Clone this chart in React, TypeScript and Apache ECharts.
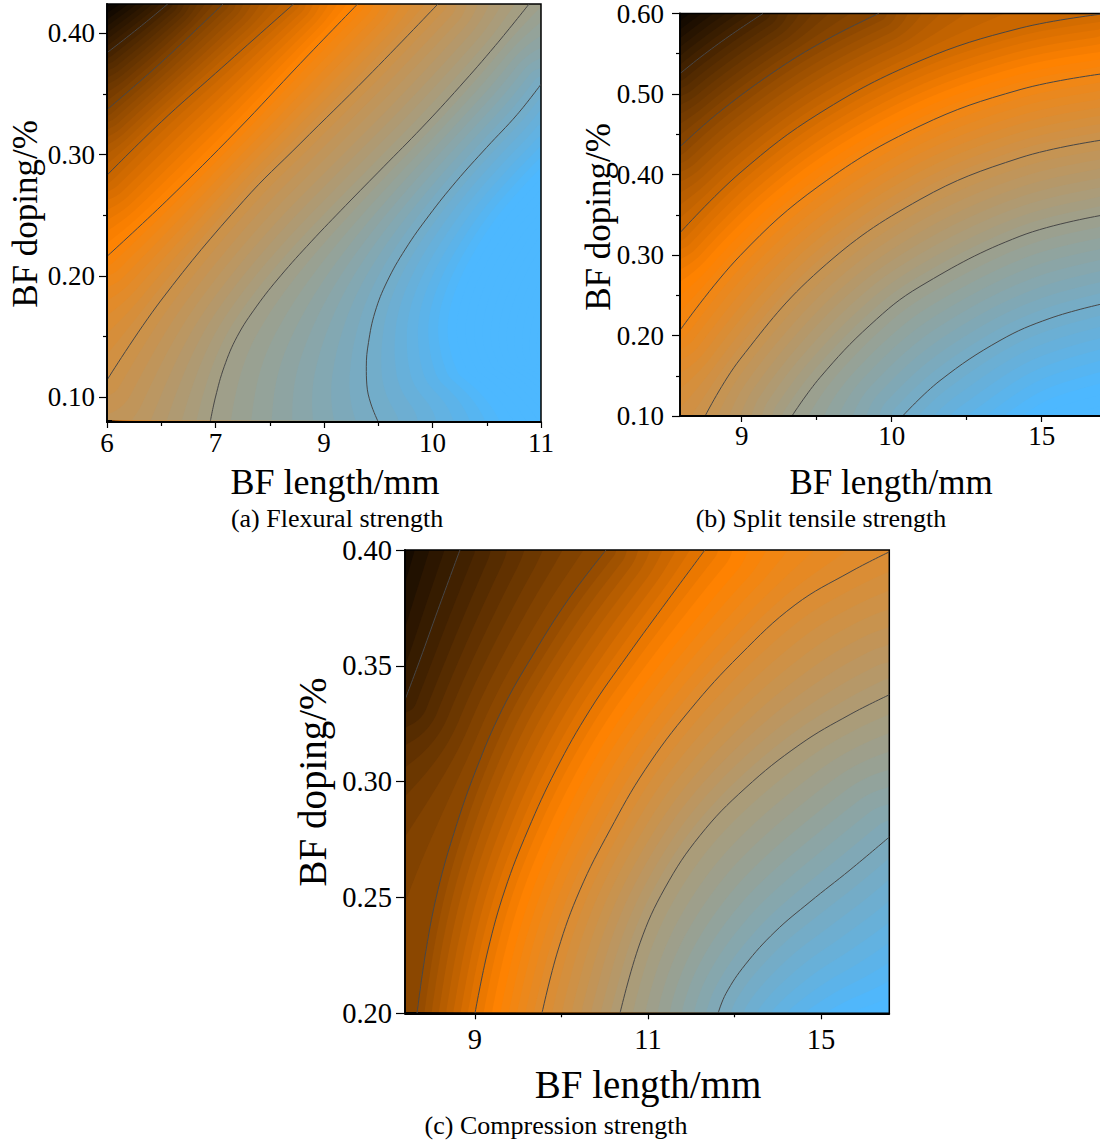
import React, { useEffect, useRef } from "react";
import * as echarts from "echarts";

type Pt = [number, number];

const SERIF = "'Times New Roman', 'Liberation Serif', 'DejaVu Serif', serif";

// colour map: black -> orange -> light blue
const C_LOW = [0, 0, 0];
const C_MID = [255, 130, 0];
const C_HIGH = [77, 184, 255];

// ---------------- (a) Flexural strength ----------------
const aXLabels = ["6", "7", "9", "10", "11"];
const aXTicks = [0, 1, 2, 3, 4];
const aXMinor = [0.5, 1.5, 2.5, 3.5];
const aYTicks = [0.1, 0.2, 0.3, 0.4];
const aYMinor = [0.15, 0.25, 0.35];
const aLevels = [1, 2, 3, 4, 5, 6, 7];
const aAnchors = [0, 3.9, 7.9];
const aC1: Pt[] = [[0, 0.384], [0.3, 0.405], [0.56, 0.4242]];
const aC2: Pt[] = [[0, 0.337], [0.5, 0.376], [1.07, 0.4242]];
const aC3: Pt[] = [[0, 0.283], [0.5, 0.327], [1.0, 0.367], [1.72, 0.4242]];
const aC4: Pt[] = [[0, 0.216], [0.55, 0.262], [1.2, 0.32], [1.78, 0.375], [2.31, 0.4242]];
const aC5: Pt[] = [[0, 0.114], [0.5, 0.18], [1.26, 0.262], [1.78, 0.309], [2.4, 0.364], [3.05, 0.4242]];
const aC6: Pt[] = [[0.951, 0.0794], [1.0, 0.1], [1.08, 0.125], [1.2, 0.15], [1.38, 0.175], [1.6, 0.2], [1.88, 0.228], [2.2, 0.258], [2.55, 0.29], [2.9, 0.322], [3.25, 0.356], [3.58, 0.39], [3.89, 0.4242]];
const aC7: Pt[] = [[2.5, 0.0794], [2.43, 0.095], [2.395, 0.11], [2.39, 0.125], [2.41, 0.145], [2.47, 0.17], [2.58, 0.195], [2.75, 0.222], [2.97, 0.25], [3.22, 0.278], [3.5, 0.306], [3.78, 0.333], [4.0, 0.358]];
const aContours = [aC1, aC2, aC3, aC4, aC5, aC6, aC7];

// ---------------- (b) Split tensile strength ----------------
const bXLabels = ["9", "10", "15"];
const bXTicks = [0, 1, 2];
const bXMinor = [0.5, 1.5];
const bYTicks = [0.1, 0.2, 0.3, 0.4, 0.5, 0.6];
const bYMinor = [0.15, 0.25, 0.35, 0.45, 0.55];
const bLevels = [1, 2, 3, 4, 5, 6, 7];
const bAnchors = [0, 3.7, 7.9];
const bC1: Pt[] = [[-0.4113, 0.5253], [-0.278, 0.5453], [-0.078, 0.5726], [0.142, 0.6]];
const bC2: Pt[] = [[-0.4113, 0.4345], [-0.145, 0.4782], [0.255, 0.5325], [0.589, 0.5698], [0.914, 0.6]];
const bC3: Pt[] = [[-0.4113, 0.3276], [-0.011, 0.402], [0.522, 0.4765], [1.189, 0.5412], [1.855, 0.5817], [2.4087, 0.5995]];
const bC4: Pt[] = [[-0.4113, 0.2065], [-0.011, 0.2991], [0.522, 0.3867], [1.189, 0.4603], [1.855, 0.5054], [2.4087, 0.5252]];
const bC5: Pt[] = [[-0.244, 0.1], [-0.011, 0.1705], [0.522, 0.2817], [1.189, 0.369], [1.855, 0.4207], [2.4087, 0.443]];
const bC6: Pt[] = [[0.335, 0.1], [0.522, 0.1478], [0.855, 0.2128], [1.189, 0.2609], [1.855, 0.3233], [2.4087, 0.3496]];
const bC7: Pt[] = [[1.073, 0.1], [1.322, 0.144], [1.722, 0.1938], [2.055, 0.2213], [2.4087, 0.2395]];
const bContours = [bC1, bC2, bC3, bC4, bC5, bC6, bC7];

// ---------------- (c) Compression strength ----------------
const cXLabels = ["9", "11", "15"];
const cXTicks = [0, 1, 2];
const cXMinor = [0.5, 1.5];
const cYTicks = [0.2, 0.25, 0.3, 0.35, 0.4];
const cLevels = [2, 3, 4, 5, 6, 7];
const cAnchors = [1.3, 4.3, 8.0];
const cC0: Pt[] = [[-0.4046, 0.3353], [-0.318, 0.3526], [-0.214, 0.3742], [-0.087, 0.4]];
const cC1: Pt[] = [[-0.335, 0.2], [-0.283, 0.2273], [-0.214, 0.2533], [-0.116, 0.2791], [0.006, 0.3051], [0.156, 0.331], [0.335, 0.3547], [0.538, 0.3785], [0.757, 0.4]];
const cC2: Pt[] = [[0, 0.2], [0.075, 0.2273], [0.173, 0.2533], [0.306, 0.2791], [0.468, 0.3051], [0.665, 0.331], [0.884, 0.3547], [1.116, 0.3785], [1.329, 0.4]];
const cC3: Pt[] = [[0.387, 0.2], [0.48, 0.2273], [0.607, 0.2533], [0.78, 0.2791], [0.983, 0.3051], [1.243, 0.331], [1.532, 0.3547], [1.85, 0.3763], [2.168, 0.3905], [2.3948, 0.3992]];
const cC4: Pt[] = [[0.838, 0.2], [0.954, 0.2304], [1.098, 0.2541], [1.301, 0.2768], [1.561, 0.2971], [1.879, 0.3161], [2.168, 0.329], [2.3948, 0.3375]];
const cC5: Pt[] = [[1.405, 0.2], [1.451, 0.2086], [1.561, 0.2209], [1.734, 0.2352], [1.936, 0.2481], [2.168, 0.2619], [2.3948, 0.2761]];
const cContours = [cC0, cC1, cC2, cC3, cC4, cC5];

// ---------------- helpers ----------------
function cmap(level: number, anc: number[]): string {
  const [l0, l1, l2] = anc;
  let c: number[];
  if (level <= l1) {
    const t = Math.max(0, Math.min(1, (level - l0) / (l1 - l0)));
    c = C_LOW.map((v, i) => v + (C_MID[i] - v) * t);
  } else {
    const t = Math.max(0, Math.min(1, (level - l1) / (l2 - l1)));
    c = C_MID.map((v, i) => v + (C_HIGH[i] - v) * t);
  }
  return `rgb(${Math.round(c[0])},${Math.round(c[1])},${Math.round(c[2])})`;
}

function dense(pts: Pt[], seg = 6): Pt[] {
  if (pts.length < 3) return pts.slice();
  const out: Pt[] = [];
  for (let i = 0; i < pts.length - 1; i++) {
    const p0 = pts[Math.max(0, i - 1)], p1 = pts[i], p2 = pts[i + 1], p3 = pts[Math.min(pts.length - 1, i + 2)];
    for (let k = 0; k < seg; k++) {
      const t = k / seg, t2 = t * t, t3 = t2 * t;
      const f = (a: number, b: number, c: number, d: number) =>
        0.5 * (2 * b + (-a + c) * t + (2 * a - 5 * b + 4 * c - d) * t2 + (-a + 3 * b - 3 * c + d) * t3);
      out.push([f(p0[0], p1[0], p2[0], p3[0]), f(p0[1], p1[1], p2[1], p3[1])]);
    }
  }
  out.push(pts[pts.length - 1]);
  return out;
}

function pip(poly: Pt[], x: number, y: number) {
  let inside = false;
  for (let i = 0, j = poly.length - 1; i < poly.length; j = i++) {
    const xi = poly[i][0], yi = poly[i][1], xj = poly[j][0], yj = poly[j][1];
    if ((yi > y) !== (yj > y) && x < ((xj - xi) * (y - yi)) / (yj - yi) + xi) inside = !inside;
  }
  return inside;
}

function distTo(c: Pt[], x: number, y: number) {
  let best = Infinity;
  for (let i = 0; i < c.length - 1; i++) {
    const ax = c[i][0], ay = c[i][1], dx = c[i + 1][0] - ax, dy = c[i + 1][1] - ay;
    const L = dx * dx + dy * dy;
    let t = L > 0 ? ((x - ax) * dx + (y - ay) * dy) / L : 0;
    t = Math.max(0, Math.min(1, t));
    const ex = ax + t * dx - x, ey = ay + t * dy - y;
    const d = ex * ex + ey * ey;
    if (d < best) best = d;
  }
  return Math.sqrt(best);
}

function makeFill(contours: Pt[][], levels: number[], anchors: number[], step: number) {
  return function renderItem(params: any, api: any) {
    const cs = params.coordSys;
    const x0 = cs.x, y0 = cs.y, x1 = cs.x + cs.width, y1 = cs.y + cs.height;
    const W = x1 - x0, H = y1 - y0, PER = 2 * W + 2 * H;
    const px: Pt[][] = contours.map((c) => dense(c.map((p) => api.coord(p) as Pt)));
    const perPos = (p: Pt) => {
      const dl = Math.abs(p[0] - x0), dr = Math.abs(p[0] - x1), dt = Math.abs(p[1] - y0), db = Math.abs(p[1] - y1);
      const m = Math.min(dl, dr, dt, db);
      const cl = (v: number, hi: number) => Math.min(Math.max(v, 0), hi);
      if (m === dt) return cl(p[0] - x0, W);
      if (m === dr) return W + cl(p[1] - y0, H);
      if (m === db) return W + H + cl(x1 - p[0], W);
      return 2 * W + H + cl(y1 - p[1], H);
    };
    const corners: [number, Pt][] = [[0, [x0, y0]], [W, [x1, y0]], [W + H, [x1, y1]], [2 * W + H, [x0, y1]]];
    const polys = px.map((c) => {
      const a = perPos(c[0]), b = perPos(c[c.length - 1]);
      const span = (a - b + PER) % PER;
      const extra = corners
        .map(([pos, pt]) => [(pos - b + PER) % PER, pt] as [number, Pt])
        .filter(([d]) => d > 0.01 && d < span - 0.01)
        .sort((u, v) => u[0] - v[0])
        .map((u) => u[1]);
      return c.concat(extra);
    });
    const n = px.length;
    const levelAt = (x: number, y: number) => {
      let k = 0;
      for (let i = 0; i < n; i++) if (pip(polys[i], x, y)) k++;
      if (k === 0) {
        const d1 = distTo(px[0], x, y), d2 = distTo(px[1], x, y);
        const sp = Math.max(d2 - d1, 15);
        return levels[0] - ((levels[1] - levels[0]) * d1) / sp;
      }
      if (k >= n) {
        const dn = distTo(px[n - 1], x, y), dm = distTo(px[n - 2], x, y);
        const sp = Math.max(dm - dn, 15);
        return levels[n - 1] + ((levels[n - 1] - levels[n - 2]) * dn) / sp;
      }
      const da = distTo(px[k - 1], x, y), db = distTo(px[k], x, y);
      return levels[k - 1] + ((levels[k] - levels[k - 1]) * da) / (da + db || 1);
    };
    const xs: number[] = [];
    for (let x = x0; x < x1; x += 2) xs.push(x);
    xs.push(x1);
    const ys: number[] = [];
    for (let y = y0; y < y1; y += 2) ys.push(y);
    ys.push(y1);
    const F = ys.map((y) => xs.map((x) => levelAt(x, y)));
    let mn = Infinity, mx = -Infinity;
    F.forEach((r) => r.forEach((v) => { if (v < mn) mn = v; if (v > mx) mx = v; }));
    const r1 = (v: number) => Math.round(v * 10) / 10;
    const children: any[] = [];
    const first = Math.floor(mn / step) * step;
    children.push({ type: "rect", silent: true, shape: { x: x0, y: y0, width: W, height: H }, style: { fill: cmap(first + step / 2, anchors) } });
    for (let s = first + step; s <= mx; s += step) {
      const pts: number[][] = [];
      let any = false;
      for (let j = 0; j < ys.length; j++) {
        const row = F[j];
        let xc = x1;
        if (row[0] >= s) xc = x0;
        else {
          for (let i = 1; i < row.length; i++) {
            if (row[i] >= s) {
              const f = (s - row[i - 1]) / (row[i] - row[i - 1]);
              xc = xs[i - 1] + f * (xs[i] - xs[i - 1]);
              break;
            }
          }
        }
        if (xc < x1) any = true;
        pts.push([r1(xc), r1(ys[j])]);
      }
      if (!any) continue;
      pts.push([x1, y1]);
      pts.push([x1, y0]);
      children.push({ type: "polygon", silent: true, shape: { points: pts }, style: { fill: cmap(s + step / 2, anchors) } });
    }
    children.push({ type: "rect", silent: true, shape: { x: x0, y: y0, width: W, height: H }, style: { fill: "none", stroke: "#000", lineWidth: 1.5 } });
    return { type: "group", children };
  };
}

function mainX(grid: number, min: number, max: number, ticks: number[], labels: string[], fs: number, margin: number) {
  return {
    type: "value", gridIndex: grid, min, max, position: "bottom", z: 5,
    axisLine: { show: true, onZero: false, lineStyle: { color: "#000", width: 1.8 } },
    axisTick: { show: true, customValues: ticks, length: 6, inside: false, lineStyle: { color: "#000", width: 1.2 } },
    axisLabel: {
      show: true, customValues: ticks, margin, color: "#000", fontFamily: SERIF, fontSize: fs,
      formatter: (v: number) => labels[ticks.indexOf(Math.round(v))] ?? "",
    },
    splitLine: { show: false },
  };
}
function minorX(grid: number, min: number, max: number, ticks: number[]) {
  return {
    type: "value", gridIndex: grid, min, max, position: "bottom", z: 5,
    axisLine: { show: false, onZero: false },
    axisTick: { show: true, customValues: ticks, length: 4, inside: false, lineStyle: { color: "#000", width: 1.2 } },
    axisLabel: { show: false },
    splitLine: { show: false },
  };
}
function mainY(grid: number, min: number, max: number, ticks: number[], fs: number, margin: number, len: number) {
  return {
    type: "value", gridIndex: grid, min, max, position: "left", z: 5,
    axisLine: { show: true, onZero: false, lineStyle: { color: "#000", width: 1.8 } },
    axisTick: { show: true, customValues: ticks, length: len, inside: false, lineStyle: { color: "#000", width: 1.2 } },
    axisLabel: { show: true, customValues: ticks, margin, color: "#000", fontFamily: SERIF, fontSize: fs, formatter: (v: number) => v.toFixed(2) },
    splitLine: { show: false },
  };
}
function minorY(grid: number, min: number, max: number, ticks: number[]) {
  return {
    type: "value", gridIndex: grid, min, max, position: "left", z: 5,
    axisLine: { show: false, onZero: false },
    axisTick: { show: true, customValues: ticks, length: 4, inside: false, lineStyle: { color: "#000", width: 1.2 } },
    axisLabel: { show: false },
    splitLine: { show: false },
  };
}

function lines(cs: Pt[][], xi: number, yi: number) {
  return cs.map((c) => ({
    type: "line", xAxisIndex: xi, yAxisIndex: yi, data: c, smooth: 0.4, symbol: "none", showSymbol: false,
    silent: true, clip: true, z: 3, lineStyle: { color: "#474747", width: 1 },
  }));
}

function txt(text: string, x: number, y: number, size: number, rot = 0) {
  return {
    type: "text", x, y, rotation: rot, z: 10, silent: true,
    style: { text, font: `${size}px ${SERIF}`, fill: "#000", textAlign: "center", textVerticalAlign: "middle" },
  };
}

export default function App() {
  const ref = useRef<HTMLDivElement>(null);
  useEffect(() => {
    if (!ref.current) return;
    const chart = echarts.init(ref.current, null, { renderer: "svg" });
    const A = { xmin: 0, xmax: 4, ymin: 0.0794, ymax: 0.4242 };
    const B = { xmin: -0.4113, xmax: 2.4087, ymin: 0.1, ymax: 0.6 };
    const C = { xmin: -0.4046, xmax: 2.3948, ymin: 0.2, ymax: 0.4 };
    const option: any = {
      animation: false,
      grid: [
        { left: 107, top: 4, width: 434, height: 418 },
        { left: 680, top: 10.7, width: 423, height: 405.3 },
        { left: 405, top: 550, width: 484.3, height: 463.3 },
      ],
      xAxis: [
        mainX(0, A.xmin, A.xmax, aXTicks, aXLabels, 27, 7),
        minorX(0, A.xmin, A.xmax, aXMinor),
        mainX(1, B.xmin, B.xmax, bXTicks, bXLabels, 27, 6),
        minorX(1, B.xmin, B.xmax, bXMinor),
        mainX(2, C.xmin, C.xmax, cXTicks, cXLabels, 28.5, 12),
        minorX(2, C.xmin, C.xmax, cXMinor),
      ],
      yAxis: [
        mainY(0, A.ymin, A.ymax, aYTicks, 27, 12, 8),
        minorY(0, A.ymin, A.ymax, aYMinor),
        mainY(1, B.ymin, B.ymax, bYTicks, 27, 16, 8),
        minorY(1, B.ymin, B.ymax, bYMinor),
        mainY(2, C.ymin, C.ymax, cYTicks, 28.5, 13, 9),
      ],
      series: [
        { type: "custom", xAxisIndex: 0, yAxisIndex: 0, data: [[0, 0]], silent: true, z: 1, clip: false, renderItem: makeFill(aContours, aLevels, aAnchors, 1 / 8) },
        { type: "custom", xAxisIndex: 2, yAxisIndex: 2, data: [[0, 0]], silent: true, z: 1, clip: false, renderItem: makeFill(bContours, bLevels, bAnchors, 1 / 8) },
        { type: "custom", xAxisIndex: 4, yAxisIndex: 4, data: [[0, 0]], silent: true, z: 1, clip: false, renderItem: makeFill(cContours, cLevels, cAnchors, 1 / 8) },
        ...lines(aContours, 0, 0),
        ...lines(bContours, 2, 2),
        ...lines(cContours, 4, 4),
      ],
      graphic: [
        txt("BF length/mm", 335, 482, 36),
        txt("BF length/mm", 891, 482, 35),
        txt("BF length/mm", 648, 1084, 39),
        txt("BF doping/%", 25, 214, 35, Math.PI / 2),
        txt("BF doping/%", 598, 217, 35, Math.PI / 2),
        txt("BF doping/%", 312, 782, 39, Math.PI / 2),
        txt("(a) Flexural strength", 337, 518, 26),
        txt("(b) Split tensile strength", 821, 518, 26),
        txt("(c) Compression strength", 556, 1125, 26),
      ],
    };
    chart.setOption(option);
    return () => chart.dispose();
  }, []);
  return (
    <div style={{ position: "absolute", left: 0, top: 0, width: 1100, height: 1142, overflow: "hidden", background: "#fff" }}>
      <div ref={ref} style={{ width: 1110, height: 1142 }} />
    </div>
  );
}
